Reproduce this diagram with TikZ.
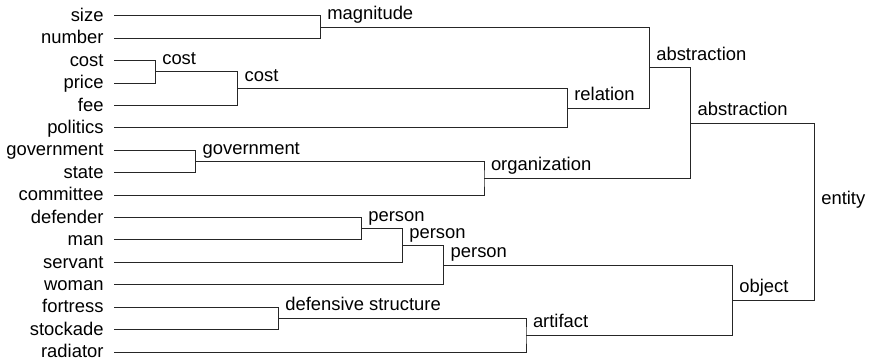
\documentclass[tikz,border=0pt]{standalone}
\usepackage{fontspec}
\setmainfont{Liberation Sans}
\begin{document}
\begin{tikzpicture}[x=1pt,y=-1pt,
  every node/.style={inner sep=0pt,outer sep=0pt,font=\fontsize{18.4}{22}\selectfont},
  leaf/.style={anchor=base east},
  mlabel/.style={anchor=base west},
  branch/.style={line width=1pt,draw=black!85}]
\useasboundingbox (0,0) rectangle (869,363);
% leaves
\foreach \nm/\txt/\i in {l0/size/0,l1/number/1,l2/cost/2,l3/price/3,l4/fee/4,l5/politics/5,
  l6/government/6,l7/state/7,l8/committee/8,l9/defender/9,l10/man/10,l11/servant/11,
  l12/woman/12,l13/fortress/13,l14/stockade/14,l15/radiator/15}{
  \node[leaf] (t\nm) at (103.5,16+22.4*\i+5.6) {\txt};
  \coordinate (\nm) at (114,16+22.4*\i);
}
% merge points
\coordinate (magnitude) at (320.3,27.2);
\coordinate (costa) at (155.3,72);
\coordinate (costb) at (237.7,88.8);
\coordinate (relation) at (567.3,108.4);
\coordinate (abstra) at (649.3,67.8);
\coordinate (govern) at (195.7,161.6);
\coordinate (organiz) at (484,178.4);
\coordinate (abstrb) at (690.7,123.1);
\coordinate (persona) at (361.3,228.8);
\coordinate (personb) at (402.3,245.6);
\coordinate (personc) at (443.7,265.2);
\coordinate (defstr) at (278.3,318.4);
\coordinate (artif) at (526,335.2);
\coordinate (objct) at (732.3,300.2);
\coordinate (entty) at (814.3,211.65);
% branches
\draw[branch] (l0) -| (magnitude) |- (l1);
\draw[branch] (l2) -| (costa) |- (l3);
\draw[branch] (costa) -| (costb) |- (l4);
\draw[branch] (costb) -| (relation) |- (l5);
\draw[branch] (magnitude) -| (abstra) |- (relation);
\draw[branch] (l6) -| (govern) |- (l7);
\draw[branch] (govern) -| (organiz) |- (l8);
\draw[branch] (abstra) -| (abstrb) |- (organiz);
\draw[branch] (l9) -| (persona) |- (l10);
\draw[branch] (persona) -| (personb) |- (l11);
\draw[branch] (personb) -| (personc) |- (l12);
\draw[branch] (l13) -| (defstr) |- (l14);
\draw[branch] (defstr) -| (artif) |- (l15);
\draw[branch] (personc) -| (objct) |- (artif);
\draw[branch] (abstrb) -| (entty) |- (objct);
% labels
\foreach \c/\txt in {magnitude/magnitude,costa/cost,costb/cost,relation/relation,
  abstra/abstraction,govern/government,organiz/organization,abstrb/abstraction,
  persona/person,personb/person,personc/person,defstr/defensive structure,
  artif/artifact,objct/object,entty/entity}{
  \node[mlabel] (lab\c) at ([shift={(7,-7.5)}]\c) {\txt};
}
\end{tikzpicture}
\end{document}
